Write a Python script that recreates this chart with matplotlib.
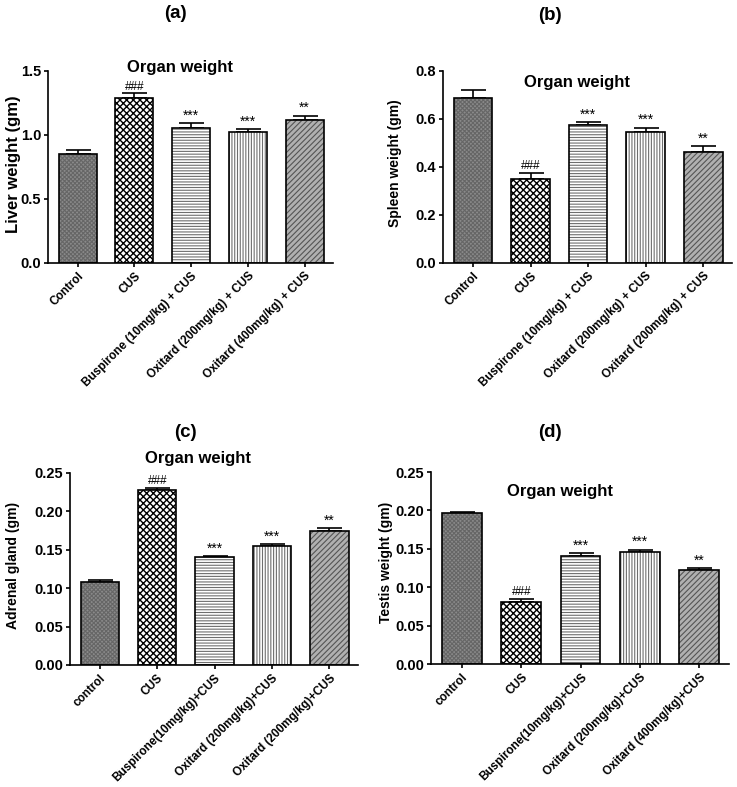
import numpy as np
import matplotlib
matplotlib.use("Agg")
import matplotlib.pyplot as plt

plt.rcParams['font.family'] = ['Liberation Sans', 'DejaVu Sans']

# panel (a) liver
liver_labels = ["Control", "CUS", "Buspirone (10mg/kg) + CUS",
                "Oxitard (200mg/kg) + CUS", "Oxitard (400mg/kg) + CUS"]
liver_mean = [0.85, 1.292, 1.058, 1.027, 1.115]
liver_err = [0.031, 0.034, 0.034, 0.018, 0.037]
liver_sig = ["", "###", "***", "***", "**"]

# panel (b) spleen
spleen_labels = ["Control", "CUS", "Buspirone (10mg/kg) + CUS",
                 "Oxitard (200mg/kg) + CUS", "Oxitard (200mg/kg) + CUS"]
spleen_mean = [0.689, 0.349, 0.576, 0.544, 0.462]
spleen_err = [0.031, 0.028, 0.011, 0.020, 0.025]
spleen_sig = ["", "###", "***", "***", "**"]

# panel (c) adrenal
adrenal_labels = ["control", "CUS", "Buspirone(10mg/kg)+CUS",
                  "Oxitard (200mg/kg)+CUS", "Oxitard (200mg/kg)+CUS"]
adrenal_mean = [0.108, 0.228, 0.140, 0.155, 0.175]
adrenal_err = [0.003, 0.003, 0.002, 0.002, 0.003]
adrenal_sig = ["", "###", "***", "***", "**"]

# panel (d) testis
testis_labels = ["control", "CUS", "Buspirone(10mg/kg)+CUS",
                 "Oxitard (200mg/kg)+CUS", "Oxitard (400mg/kg)+CUS"]
testis_mean = [0.197, 0.081, 0.141, 0.146, 0.122]
testis_err = [0.001, 0.004, 0.003, 0.003, 0.003]
testis_sig = ["", "###", "***", "***", "**"]

# bar fill styles (face, hatch, hatch colour, hatch linewidth)
styles = [("#8a8a8a", "xxxxxxxx", "#666666", 0.8),
          ("white", "xxxxx", "black", 1.0),
          ("white", "------", "#6e6e6e", 0.8),
          ("white", "||||||", "#6e6e6e", 0.8),
          ("#b0b0b0", "//////", "#555555", 0.8)]

W, H = 737, 787
fig = plt.figure(figsize=(W / 100, H / 100), dpi=100)


def px_axes(l, r, t, b):
    return fig.add_axes([l / W, 1 - b / H, (r - l) / W, (b - t) / H])


def draw(ax, labels, mean, err, sig, ylim, yticks, fmt, ylabel, ylfs, ylpos, title_pos):
    x = np.arange(len(mean))
    for i in range(len(mean)):
        face, hatch, hc, hlw = styles[i]
        with plt.rc_context({"hatch.linewidth": hlw}):
            ax.bar(x[i], mean[i], 0.67, color=face, hatch=hatch, edgecolor=hc, linewidth=0, zorder=2)
        ax.bar(x[i], mean[i], 0.67, fill=False, edgecolor="black", linewidth=1.2, zorder=3)
    ax.errorbar(x, mean, yerr=[np.zeros(len(err)), err], fmt="none", ecolor="black",
                elinewidth=1.2, capsize=9, capthick=1.2, zorder=1)
    for i in range(len(mean)):
        if sig[i]:
            fs = 8.5 if sig[i].startswith("#") else 10
            ax.text(x[i], mean[i] + err[i] + ylim[1] * 0.003, sig[i], ha="center", va="bottom",
                    fontsize=fs, zorder=4)
    ax.set_xlim(-0.52, 4.5)
    ax.set_ylim(*ylim)
    ax.set_yticks(yticks)
    ax.set_yticklabels([fmt % v for v in yticks], fontsize=10.5, fontweight="bold")
    ax.set_xticks(x)
    ax.set_xticklabels(labels, rotation=45, ha="right", rotation_mode="anchor",
                       fontsize=8.5, fontweight="bold")
    for s in ["top", "right"]:
        ax.spines[s].set_visible(False)
    for s in ["left", "bottom"]:
        ax.spines[s].set_linewidth(1.2)
    ax.tick_params(width=1.2, length=3, pad=2)
    ax.set_ylabel(ylabel, fontsize=ylfs, fontweight="bold")
    ax.yaxis.set_label_coords(*ylpos)
    ax.text(title_pos[0], title_pos[1], "Organ weight", transform=ax.transAxes,
            ha="center", va="center", fontsize=12, fontweight="bold")


ax_a = px_axes(48, 333, 71, 263)
draw(ax_a, liver_labels, liver_mean, liver_err, liver_sig, (0, 1.5),
     [0.0, 0.5, 1.0, 1.5], "%.1f", "Liver weight (gm)", 12, (-0.095, 0.516), (0.463, 1.02))

ax_b = px_axes(443, 732, 71, 263)
draw(ax_b, spleen_labels, spleen_mean, spleen_err, spleen_sig, (0, 0.8),
     [0.0, 0.2, 0.4, 0.6, 0.8], "%.1f", "Spleen weight (gm)", 10, (-0.142, 0.52), (0.464, 0.9375))

ax_c = px_axes(70, 358, 473, 665)
draw(ax_c, adrenal_labels, adrenal_mean, adrenal_err, adrenal_sig, (0, 0.25),
     [0.0, 0.05, 0.10, 0.15, 0.20, 0.25], "%.2f", "Adrenal gland (gm)", 10, (-0.174, 0.52), (0.444, 1.073))

ax_d = px_axes(431, 729, 472, 664)
draw(ax_d, testis_labels, testis_mean, testis_err, testis_sig, (0, 0.25),
     [0.0, 0.05, 0.10, 0.15, 0.20, 0.25], "%.2f", "Testis weight (gm)", 10, (-0.128, 0.53), (0.433, 0.90))

for lab, (px, py) in zip(["(a)", "(b)", "(c)", "(d)"], [(175, 13), (550, 15), (185, 432), (550, 432)]):
    fig.text(px / W, 1 - py / H, lab, ha="center", va="center", fontsize=13.5, fontweight="bold")

fig.savefig("out.png", dpi=100)
